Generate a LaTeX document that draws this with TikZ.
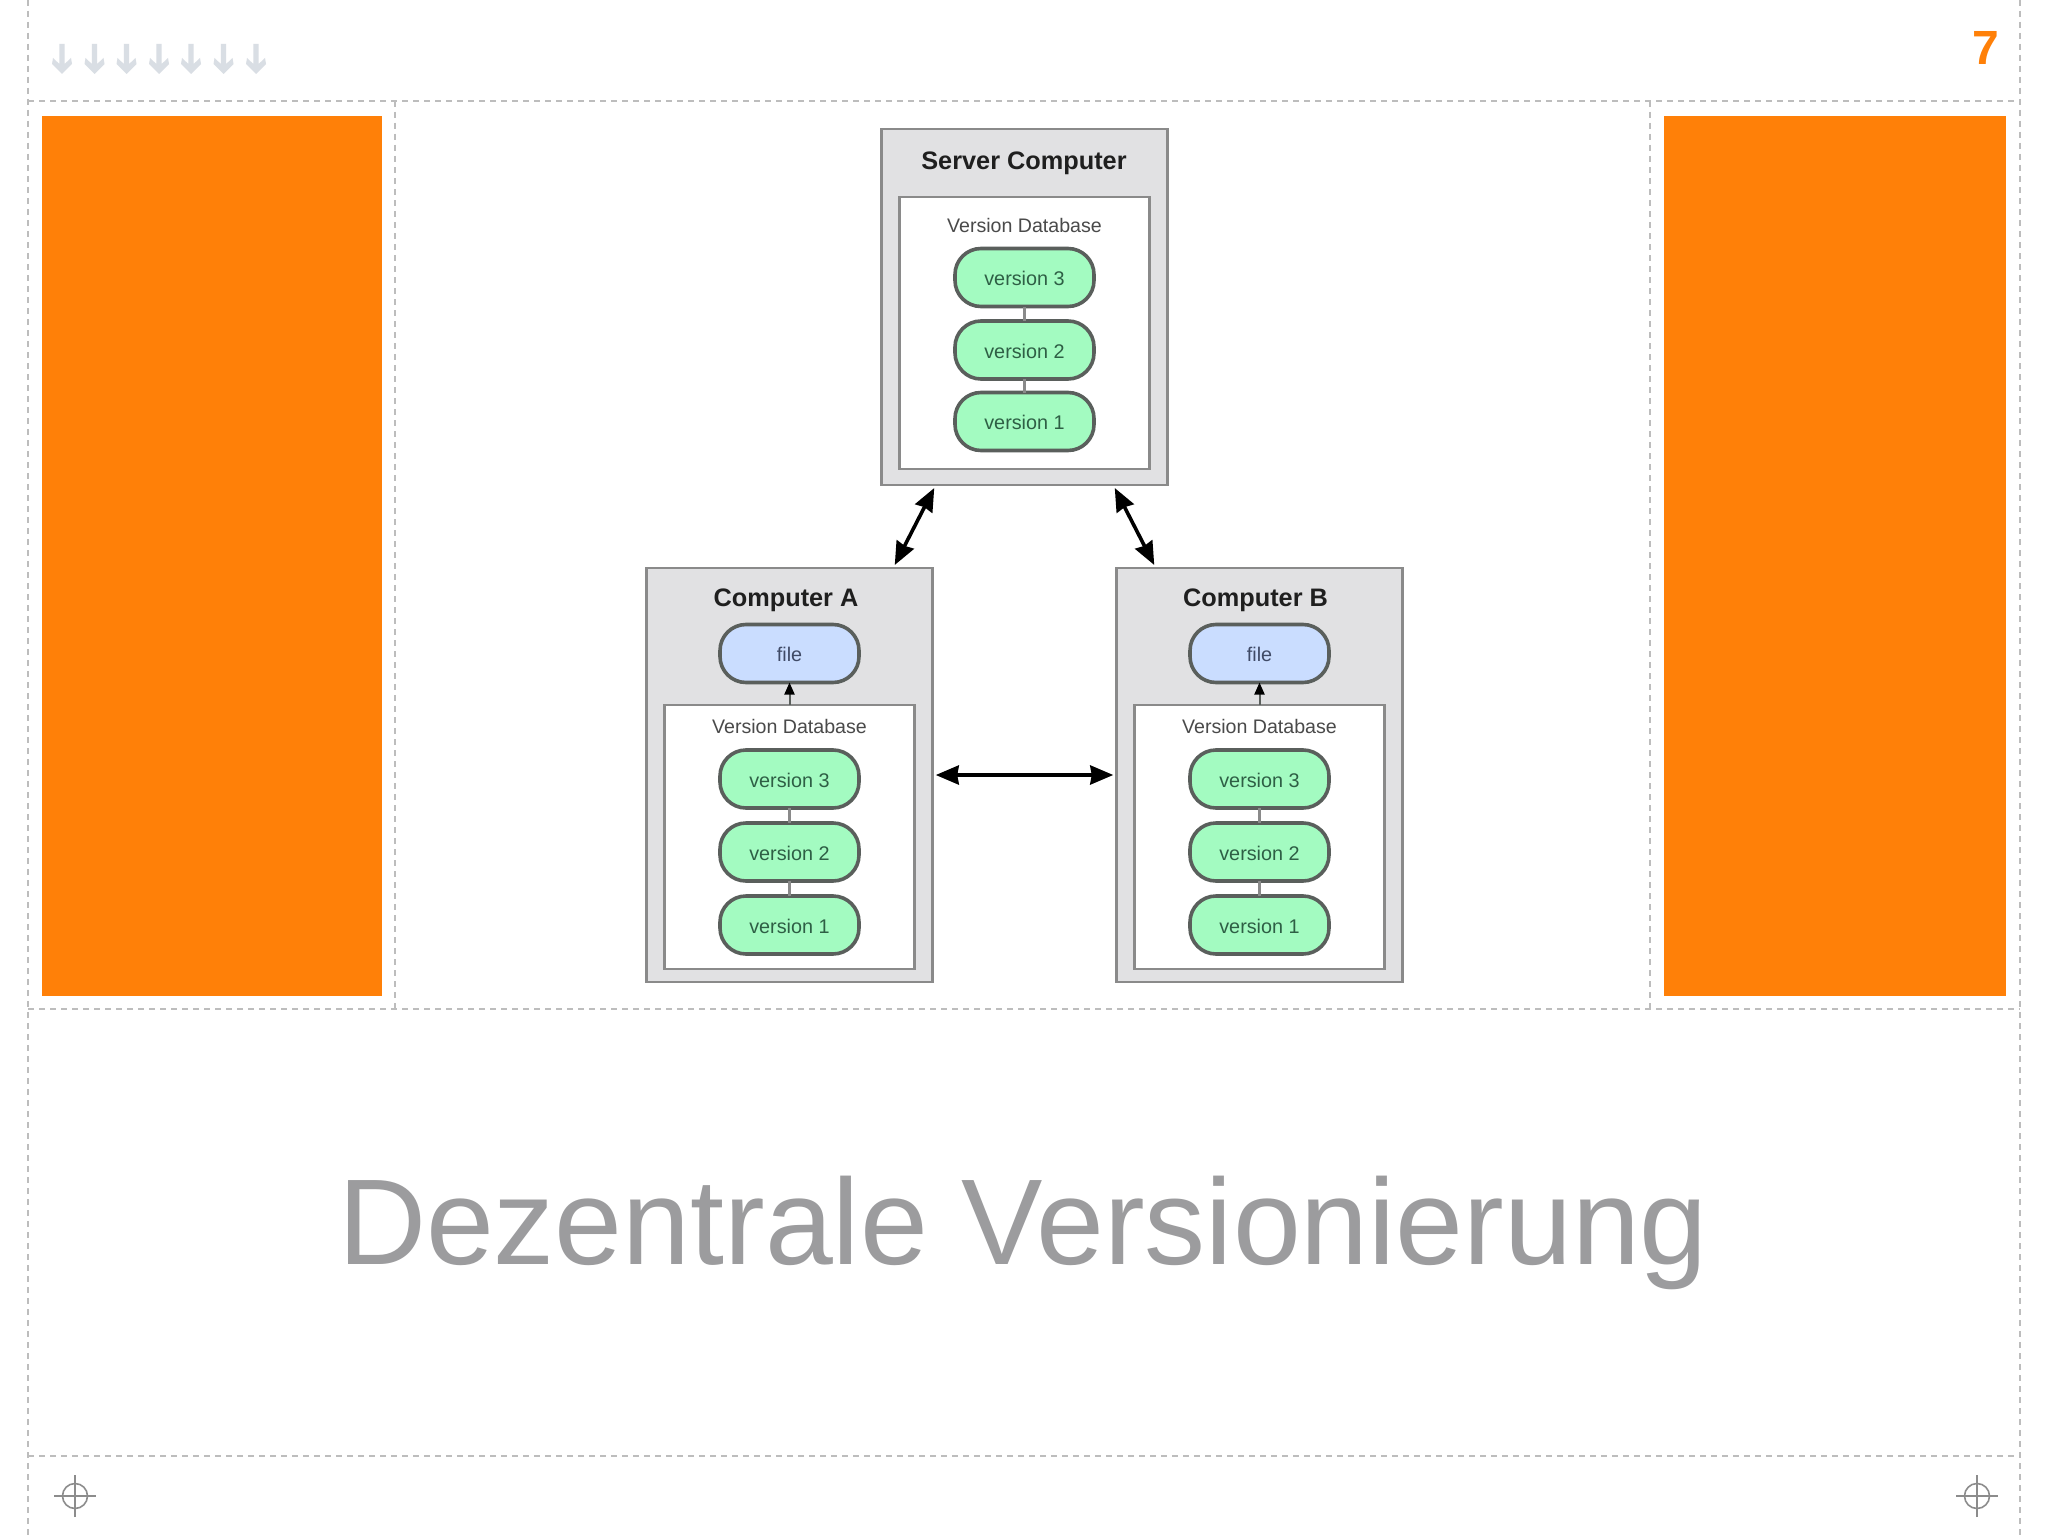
\documentclass[tikz,border=0pt]{standalone}
\usepackage{fontspec}
\setmainfont{Liberation Sans}
\usetikzlibrary{arrows.meta}
\definecolor{orangebar}{HTML}{FF8008}
\definecolor{dashgray}{HTML}{BDBDBD}
\definecolor{boxfill}{HTML}{E1E1E3}
\definecolor{boxedge}{HTML}{8A8A8A}
\definecolor{pilledge}{HTML}{5A5F5C}
\definecolor{pillgreen}{HTML}{A3FBC1}
\definecolor{pillblue}{HTML}{CADDFF}
\definecolor{greentext}{HTML}{2E5F45}
\definecolor{bluetext}{HTML}{3F4A66}
\definecolor{dbtext}{HTML}{4A4A4A}
\definecolor{titlegray}{HTML}{9C9C9E}
\definecolor{arrowgray}{HTML}{D9DEE4}
\definecolor{crossgray}{HTML}{8C8C8C}
\tikzset{
  x=1pt,y=-1pt,
  guide/.style={draw=dashgray,line width=1.6pt,dash pattern=on 6pt off 5pt},
  bar/.style={fill=orangebar,draw=none},
  computer/.style={draw=boxedge,fill=boxfill,line width=2.6pt,inner sep=0pt,outer sep=0pt,minimum width=286.5pt},
  database/.style={draw=boxedge,fill=white,line width=2.4pt,inner sep=0pt,outer sep=0pt,minimum width=250pt},
  pill/.style={draw=pilledge,line width=3.6pt,rounded corners=26pt,inner sep=0pt,outer sep=0pt,
    minimum width=139pt,minimum height=58pt,text height=16.6pt,text depth=0pt,font=\fontsize{19.8}{23}\selectfont},
  versionpill/.style={pill,fill=pillgreen,text=greentext},
  filepill/.style={pill,fill=pillblue,text=bluetext},
  boxtitle/.style={anchor=base,inner sep=0pt,font=\fontsize{25.3}{30}\selectfont\bfseries,text=black!88},
  dblabel/.style={anchor=base,inner sep=0pt,font=\fontsize{19.6}{23}\selectfont,text=dbtext},
  link/.style={draw=boxedge,line width=2.4pt},
  sync/.style={draw=black,line width=3.6pt,{Stealth[length=23pt,width=19pt,inset=1.5pt]}-{Stealth[length=23pt,width=19pt,inset=1.5pt]}},
  checkout/.style={draw=pilledge,line width=2pt,-{Stealth[length=12pt,width=10pt,inset=0pt,color=black,fill=black]}},
  navarrow/.style={fill=arrowgray,draw=none},
  cross/.style={draw=crossgray,line width=1.6pt},
}
\begin{document}
\begin{tikzpicture}
\useasboundingbox (0,0) rectangle (2048,1536);
\fill[white] (0,0) rectangle (2048,1536);

% slide guides
\draw[guide] (28,0) -- (28,1536);
\draw[guide] (2020,0) -- (2020,1536);
\draw[guide] (28,101) -- (2020,101);
\draw[guide] (28,1009) -- (2020,1009);
\draw[guide] (28,1456) -- (2020,1456);
\draw[guide] (395,101) -- (395,1009);
\draw[guide] (1650,101) -- (1650,1009);

% orange bars
\fill[bar] (42,116) rectangle (382,996);
\fill[bar] (1664,116) rectangle (2006,996);

% navigation arrows
\foreach \c in {62,94.5,126.5,159,191,223.5,256}{
  \fill[navarrow,shift={(\c,0)}] (-2.6,44) -- (2.6,44) -- (2.6,64) -- (9,58) -- (10,64) -- (0,74)
    -- (-10,64) -- (-9,58) -- (-2.6,64) -- cycle;
}

% slide number
\node[anchor=base,inner sep=0pt,text=orangebar,font=\fontsize{48}{56}\selectfont\bfseries] (num) at (1986,64.5) {7};

% Server
\node[computer,minimum height=356pt] (server) at (1024.5,307) {};
\node[database,minimum height=272pt] (sdb) at (1024.5,333) {};
\node[boxtitle] (stitle) at (1024,169) {Server Computer};
\node[dblabel] (sdbl) at (1024.5,232) {Version Database};
\node[versionpill] (s3) at (1024.5,277.5) {version 3};
\node[versionpill] (s2) at (1024.5,350) {version 2};
\node[versionpill] (s1) at (1024.5,421.5) {version 1};
\draw[link] (s3) -- (s2);
\draw[link] (s2) -- (s1);

% Computer A
\node[computer,minimum height=414pt] (compA) at (789.5,775) {};
\node[database,minimum height=264pt] (adb) at (789.5,837) {};
\node[boxtitle] (atitle) at (786,606) {Computer A};
\node[filepill] (afile) at (789.5,653.5) {file};
\node[dblabel] (adbl) at (789.5,733.5) {Version Database};
\node[versionpill] (a3) at (789.5,779) {version 3};
\node[versionpill] (a2) at (789.5,852) {version 2};
\node[versionpill] (a1) at (789.5,925) {version 1};
\draw[link] (a3) -- (a2);
\draw[link] (a2) -- (a1);
\draw[checkout] (adb.north) -- (afile.south);

% Computer B
\node[computer,minimum height=414pt] (compB) at (1259.5,775) {};
\node[database,minimum height=264pt] (bdb) at (1259.5,837) {};
\node[boxtitle] (btitle) at (1255.5,606) {Computer B};
\node[filepill] (bfile) at (1259.5,653.5) {file};
\node[dblabel] (bdbl) at (1259.5,733.5) {Version Database};
\node[versionpill] (b3) at (1259.5,779) {version 3};
\node[versionpill] (b2) at (1259.5,852) {version 2};
\node[versionpill] (b1) at (1259.5,925) {version 1};
\draw[link] (b3) -- (b2);
\draw[link] (b2) -- (b1);
\draw[checkout] (bdb.north) -- (bfile.south);

% sync arrows
\draw[sync] ([xshift=-38pt,yshift=3pt]compA.north east) -- ([xshift=53pt,yshift=-3pt]server.south west);
\draw[sync] ([xshift=-53pt,yshift=-3pt]server.south east) -- ([xshift=38pt,yshift=3pt]compB.north west);
\draw[sync] ([xshift=3pt]compA.east) -- ([xshift=-3pt]compB.west);

% title
\node[anchor=base,inner sep=0pt,text=titlegray,font=\fontsize{122}{142}\selectfont] (title) at (1023,1264) {Dezentrale Versionierung};

% registration marks
\foreach \c/\n in {75/regl,1977/regr}{
  \coordinate (\n) at (\c,1496);
  \draw[cross] (\n) circle[radius=12.5pt];
  \draw[cross] ([xshift=-21pt]\n) -- ([xshift=21pt]\n);
  \draw[cross] ([yshift=-21pt]\n) -- ([yshift=21pt]\n);
}
\end{tikzpicture}
\end{document}
